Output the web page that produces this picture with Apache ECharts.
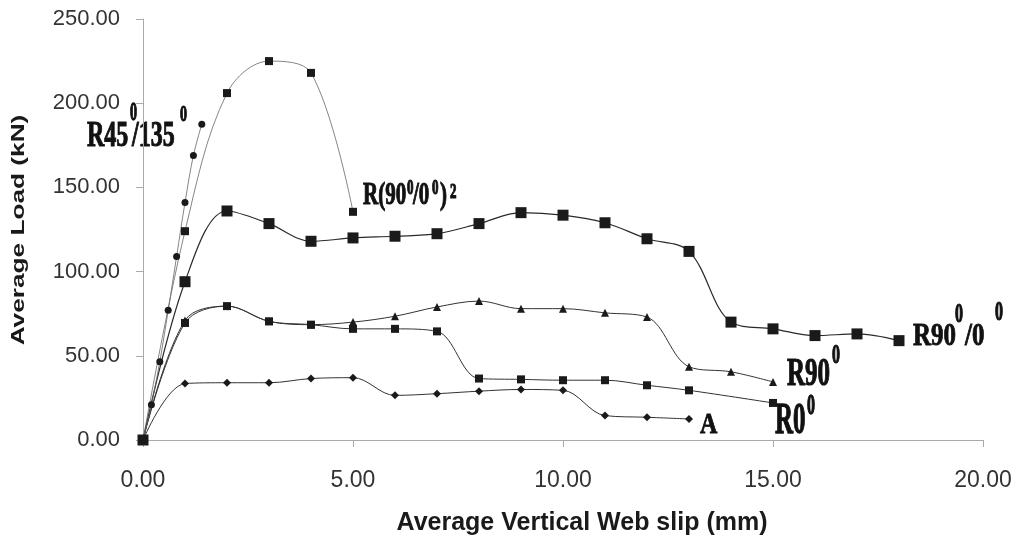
<html>
    <head>
        <title>Average Load vs Web slip</title>
        <meta charset="utf-8">
        <script type="text/javascript" src="https://cdn.jsdelivr.net/npm/echarts@6/dist/echarts.min.js"></script>
    </head>
    <body style="margin:0">
        <div id="slipChart" style="width:1020px;height:553px"></div>
        <script type="text/javascript">
            // values (slip mm, load kN)
            var slipR45 = [0, 0.2, 0.4, 0.6, 0.8, 1.0, 1.2, 1.4];
            var loadR45 = [0, 21, 46.5, 77, 109, 141, 169, 187.5];

            var slipR90_0sq = [0, 1, 2, 3, 4, 5];
            var loadR90_0sq = [0, 124, 206, 225, 218, 135.5];

            var slipR90_0 = [0, 1, 2, 3, 4, 5, 6, 7, 8, 9, 10, 11, 12, 13, 14, 15, 16, 17, 18];
            var loadR90_0 = [0, 94, 136, 128.5, 118, 120, 121, 122.5, 128.5, 135, 133.5, 129, 119.5, 112, 70, 66, 62, 63, 59];

            var slipR90 = [0, 1, 2, 3, 4, 5, 6, 7, 8, 9, 10, 11, 12, 13, 14, 15];
            var loadR90 = [0, 71, 79.5, 70.5, 68.5, 70, 73.5, 79, 82.5, 78, 78, 75.5, 73, 43.5, 40.5, 34.5];

            var slipR0 = [0, 1, 2, 3, 4, 5, 6, 7, 8, 9, 10, 11, 12, 13, 15];
            var loadR0 = [0, 69.5, 79.5, 70.5, 68.5, 66, 66, 64.5, 36.5, 36, 35.5, 35.5, 32.5, 29.5, 22];

            var slipA = [0, 1, 2, 3, 4, 5, 6, 7, 8, 9, 10, 11, 12, 13];
            var loadA = [0, 33.5, 34, 34, 36.5, 37, 26.5, 27.5, 29, 30, 29.5, 14.5, 13.5, 12.5];

            var xTicks = [0, 5, 10, 15, 20];
            var yTicks = [0, 50, 100, 150, 200, 250];

            function pairs(xs, ys) {
                var out = [];
                for (var i = 0; i < xs.length; i++) {
                    out.push([xs[i], ys[i]]);
                }
                return out;
            }

            function line(data, symbol, size, color, width) {
                return {
                    type: 'line',
                    data: data,
                    smooth: 0.35,
                    symbol: symbol,
                    symbolSize: size,
                    showAllSymbol: true,
                    lineStyle: {color: color, width: width},
                    itemStyle: {color: '#1a1a1a', borderWidth: 0},
                    animation: false
                };
            }

            // bold serif label piece (stroked a little to look as heavy as the scan)
            function t(text, x, yc, size, sy) {
                return {
                    type: 'text', x: x, y: yc, scaleY: sy,
                    style: {
                        text: text, fill: '#111', stroke: '#111', lineWidth: 0.7,
                        fontFamily: 'Liberation Serif', fontWeight: 'bold', fontSize: size,
                        align: 'left', verticalAlign: 'middle'
                    }
                };
            }

            var labels = [
                t('R45', 87, 137, 24, 1.45), t('0', 130, 114, 14, 1.8),
                t('/135', 132, 137, 24, 1.45), t('0', 180, 115, 14, 1.6),

                t('R(90', 363, 196, 21, 1.5), t('0', 407, 189, 13, 1.6),
                t('/0', 413, 196, 21, 1.5), t('0', 432, 189, 13, 1.6),
                t(')', 440, 196, 21, 1.5), t('2', 450, 193, 13, 1.6),

                t('A', 700, 425, 24, 1.25),

                t('R0', 775, 421, 25, 1.8), t('0', 807, 406, 16, 1.9),

                t('R90', 787, 374, 25, 1.64), t('0', 832, 356, 16, 1.7),

                t('R90', 913, 337, 25, 1.3), t('0', 955, 315, 16, 1.75),
                t('/0', 965, 337, 25, 1.3), t('0', 995, 313, 16, 1.75)
            ];

            labels.push({
                type: 'text', x: 18.5, y: 230, rotation: Math.PI / 2, scaleX: 1.38,
                style: {
                    text: 'Average Load (kN)', fill: '#1a1a1a',
                    fontFamily: 'Liberation Sans', fontWeight: 'bold', fontSize: 19,
                    align: 'center', verticalAlign: 'middle'
                }
            });
            labels.push({
                type: 'text', x: 582, y: 523,
                style: {
                    text: 'Average Vertical Web slip (mm)', fill: '#1a1a1a',
                    fontFamily: 'Liberation Sans', fontWeight: 'bold', fontSize: 25,
                    align: 'center', verticalAlign: 'middle'
                }
            });

            var myChart = echarts.init(document.getElementById('slipChart'));
            myChart.setOption({
                animation: false,
                backgroundColor: '#fff',
                grid: {left: 143, right: 37, top: 19, bottom: 113},
                xAxis: {
                    type: 'value',
                    min: xTicks[0], max: xTicks[xTicks.length - 1], interval: 5,
                    axisLine: {lineStyle: {color: '#aaa', width: 1}},
                    axisTick: {length: 7, lineStyle: {color: '#aaa'}},
                    splitLine: {show: false},
                    axisLabel: {
                        margin: 29, fontSize: 23, color: '#333', fontFamily: 'Liberation Sans',
                        formatter: function (v) { return v.toFixed(2); }
                    }
                },
                yAxis: {
                    type: 'value',
                    min: yTicks[0], max: yTicks[yTicks.length - 1], interval: 50,
                    axisLine: {show: true, lineStyle: {color: '#aaa', width: 1}},
                    axisTick: {show: true, length: 7, lineStyle: {color: '#aaa'}},
                    splitLine: {show: false},
                    axisLabel: {
                        margin: 23, fontSize: 22, color: '#333', fontFamily: 'Liberation Sans',
                        formatter: function (v) { return v.toFixed(2); }
                    }
                },
                series: [
                    line(pairs(slipA, loadA), 'diamond', 8, '#333', 1),
                    line(pairs(slipR0, loadR0), 'rect', 8, '#333', 1),
                    line(pairs(slipR90, loadR90), 'triangle', 8, '#333', 1),
                    line(pairs(slipR90_0, loadR90_0), 'rect', 11, '#2a2a2a', 1.2),
                    line(pairs(slipR90_0sq, loadR90_0sq), 'rect', 8, '#666', 0.8),
                    line(pairs(slipR45, loadR45), 'circle', 7, '#666', 0.8)
                ],
                graphic: {elements: labels}
            });
        </script>
    </body>
</html>
